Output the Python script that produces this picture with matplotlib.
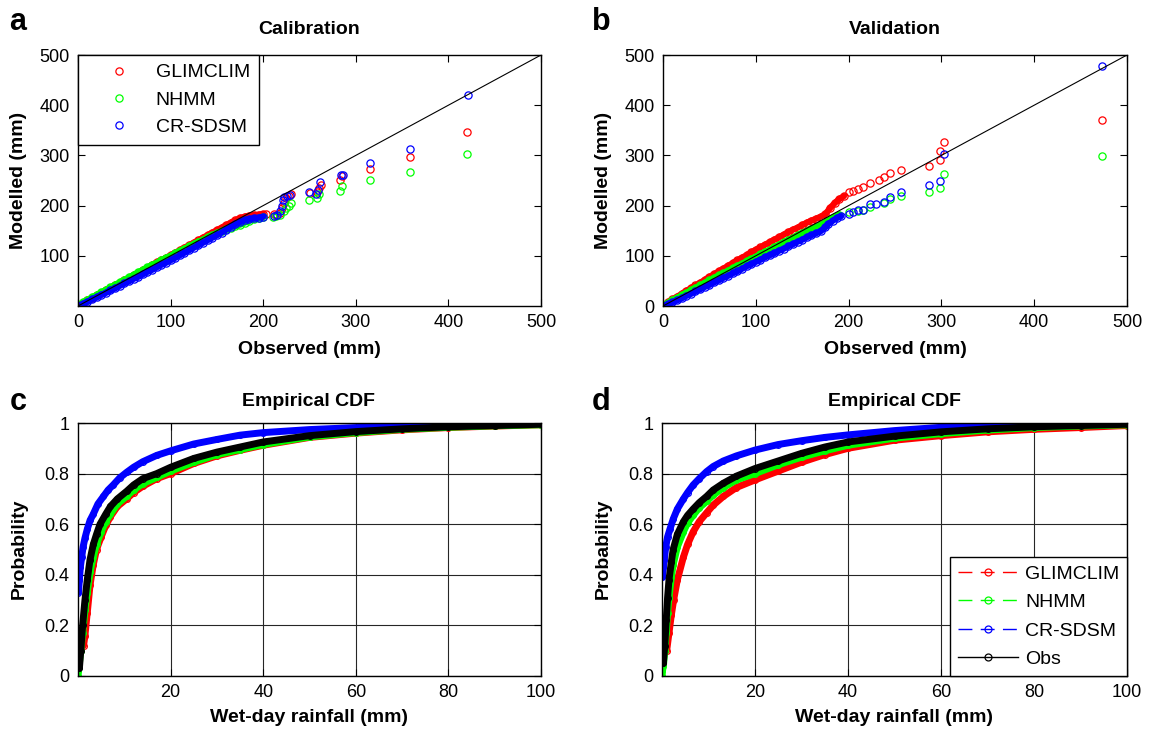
import matplotlib
matplotlib.use('Agg')
import matplotlib.pyplot as plt
from matplotlib.lines import Line2D

plt.rcParams['font.family'] = ['Liberation Sans', 'DejaVu Sans']

# ---------------- data: calibration (observed vs modelled, mm) ----------------
cal_glim_x = [0, 5, 10, 15, 20, 25, 30, 35, 40, 45, 50, 55, 60, 65, 70, 75, 80, 85, 90, 95, 100,
              105, 110, 115, 120, 125, 130, 135, 140, 145, 150, 155, 160, 165, 170, 175, 180, 185,
              190, 195, 200, 203, 212, 214, 218, 220, 222, 225, 228, 230, 250, 258, 260, 262, 283,
              285, 315, 358, 420]
cal_glim_y = [1, 6, 11, 16, 21, 26, 31, 36, 41, 46, 51, 56, 61, 66, 71, 76, 82, 87, 91, 96, 101,
              106, 111, 116, 121, 126, 131, 136, 141, 146, 151, 156, 161, 166, 171, 175, 178, 180,
              181, 182, 183, 184, 183, 181, 185, 195, 205, 215, 220, 224, 225, 228, 236, 242, 251,
              258, 272, 296, 347]
cal_nhmm_x = [0, 5, 10, 15, 20, 25, 30, 35, 40, 45, 50, 55, 60, 65, 70, 75, 80, 85, 90, 95, 100,
              105, 110, 115, 120, 125, 130, 135, 140, 145, 150, 155, 160, 165, 170, 175, 180, 185,
              190, 195, 200, 211, 214, 218, 222, 225, 228, 230, 249, 258, 260, 283, 285, 315, 358, 420]
cal_nhmm_y = [2, 7, 12, 17, 22, 27, 32, 37, 42, 47, 52, 57, 62, 67, 72, 77, 82, 86, 91, 96, 100,
              105, 110, 114, 119, 123, 128, 132, 137, 141, 145, 149, 153, 156, 159, 162, 166, 170,
              173, 175, 177, 178, 180, 182, 190, 196, 200, 205, 212, 216, 224, 230, 240, 251, 266, 302]
cal_crs_x = [0, 5, 10, 15, 20, 25, 30, 35, 40, 45, 50, 55, 60, 65, 70, 75, 80, 85, 90, 95, 100,
             105, 110, 115, 120, 125, 130, 135, 140, 145, 150, 155, 160, 165, 170, 175, 180, 185,
             190, 195, 200, 212, 215, 218, 220, 221, 223, 226, 229, 249, 257, 259, 261, 284, 286,
             315, 358, 421]
cal_crs_y = [0, 4, 8, 13, 17, 22, 26, 31, 35, 40, 45, 49, 54, 58, 63, 68, 72, 77, 82, 86, 91,
             96, 101, 106, 111, 116, 121, 126, 131, 136, 141, 146, 152, 157, 163, 167, 171, 173,
             175, 176, 178, 180, 182, 190, 200, 212, 218, 220, 222, 227, 224, 231, 247, 260, 261,
             284, 313, 421]

# ---------------- data: validation ----------------
val_glim_x = [0, 5, 10, 15, 20, 25, 30, 35, 40, 45, 50, 55, 60, 65, 70, 75, 80, 85, 90, 95, 100,
              105, 110, 115, 120, 125, 130, 135, 140, 145, 150, 155, 160, 165, 170, 175, 180, 185,
              190, 195, 200, 205, 210, 216, 223, 233, 238, 245, 256, 287, 298, 298, 303, 473]
val_glim_y = [1, 7, 13, 18, 24, 30, 35, 41, 46, 52, 58, 63, 69, 74, 80, 85, 91, 96, 101, 107, 112,
              117, 122, 127, 132, 137, 142, 147, 152, 156, 161, 166, 170, 174, 178, 183, 195, 205,
              213, 219, 227, 230, 233, 238, 245, 251, 257, 264, 270, 278, 291, 308, 327, 371]
val_nhmm_x = [0, 5, 10, 15, 20, 25, 30, 35, 40, 45, 50, 55, 60, 65, 70, 75, 80, 85, 90, 95, 100,
              105, 110, 115, 120, 125, 130, 135, 140, 145, 150, 155, 160, 165, 170, 175, 180, 185,
              190, 200, 210, 216, 223, 238, 245, 256, 287, 298, 303, 473]
val_nhmm_y = [1, 6, 11, 16, 21, 26, 31, 36, 41, 46, 51, 56, 61, 65, 70, 75, 80, 84, 89, 94, 98,
              103, 108, 112, 117, 122, 127, 131, 136, 141, 145, 150, 154, 158, 161, 166, 172, 178,
              182, 188, 190, 192, 198, 206, 214, 219, 228, 236, 263, 299]
val_crs_x = [0, 5, 10, 15, 20, 25, 30, 35, 40, 45, 50, 55, 60, 65, 70, 75, 80, 85, 90, 95, 100,
             105, 110, 115, 120, 125, 130, 135, 140, 145, 150, 155, 160, 165, 170, 175, 178, 183,
             188, 192, 200, 205, 210, 216, 223, 230, 238, 245, 256, 287, 298, 303, 473]
val_crs_y = [0, 3, 7, 11, 15, 20, 24, 29, 33, 38, 42, 47, 51, 56, 60, 65, 69, 74, 79, 83, 88,
             92, 97, 101, 105, 110, 114, 119, 123, 128, 132, 137, 141, 145, 149, 157, 163, 170,
             176, 179, 184, 187, 191, 191, 204, 203, 208, 218, 228, 242, 249, 302, 479]

# ---------------- data: empirical CDF, calibration ----------------
cdfc_glim_x = [1.2, 1.5, 2, 2.6, 3.3, 4, 5, 6, 7, 8.5, 10.5, 12, 14, 17, 20, 25, 30, 35, 40, 50, 60, 70, 80, 90, 100]
cdfc_glim_p = [0.12, 0.16, 0.25, 0.36, 0.44, 0.5, 0.55, 0.595, 0.63, 0.67, 0.70, 0.725, 0.75, 0.78, 0.80,
               0.84, 0.87, 0.892, 0.912, 0.943, 0.96, 0.973, 0.982, 0.988, 0.993]
cdfc_nhmm_x = [0, 0.1, 0.3, 0.6, 1.0, 1.5, 2, 2.6, 3.3, 4, 5, 6, 7, 8.5, 10.5, 12, 14, 17, 20, 25, 30, 35, 40, 50, 60, 70, 80, 90, 100]
cdfc_nhmm_p = [0, 0.02, 0.05, 0.1, 0.17, 0.26, 0.33, 0.41, 0.47, 0.52, 0.57, 0.61, 0.64, 0.68, 0.71, 0.735,
               0.76, 0.785, 0.81, 0.845, 0.875, 0.895, 0.915, 0.945, 0.962, 0.975, 0.983, 0.989, 0.993]
cdfc_crs_x = [0.1, 0.3, 0.5, 0.8, 1.1, 1.5, 2, 2.6, 3.3, 4.3, 5.5, 6.5, 7.6, 9, 10.5, 12, 14, 17, 20, 25, 30, 35, 40, 50, 60, 70, 80, 90, 100]
cdfc_crs_p = [0.33, 0.38, 0.43, 0.47, 0.51, 0.545, 0.58, 0.615, 0.64, 0.68, 0.71, 0.735, 0.755, 0.783, 0.805,
              0.825, 0.847, 0.872, 0.89, 0.917, 0.935, 0.952, 0.962, 0.974, 0.982, 0.988, 0.992, 0.996, 0.999]
cdfc_obs_x = [0.3, 0.6, 1.0, 1.5, 2.0, 2.6, 3.3, 4.0, 4.75, 6, 7, 8.5, 10.5, 12, 14, 17, 20, 25, 30, 35, 40, 50, 60, 70, 80, 90, 100]
cdfc_obs_p = [0.03, 0.1, 0.2, 0.3, 0.38, 0.46, 0.52, 0.56, 0.60, 0.64, 0.67, 0.70, 0.73, 0.755, 0.78, 0.80,
              0.825, 0.86, 0.885, 0.905, 0.925, 0.95, 0.966, 0.977, 0.985, 0.99, 0.995]

# ---------------- data: empirical CDF, validation ----------------
cdfd_glim_x = [1.0, 1.5, 2, 2.5, 3.3, 4.6, 5.5, 6.7, 8, 9.6, 11, 13.2, 16, 20, 25, 30, 35, 40, 50, 60, 70, 80, 90, 100]
cdfd_glim_p = [0.1, 0.17, 0.24, 0.3, 0.38, 0.47, 0.52, 0.57, 0.61, 0.645, 0.675, 0.71, 0.745, 0.775, 0.81,
               0.845, 0.875, 0.9, 0.932, 0.95, 0.965, 0.975, 0.982, 0.99]
cdfd_nhmm_x = [0, 0.1, 0.3, 0.6, 0.9, 1.2, 1.5, 2, 2.4, 3.3, 4.6, 5.5, 6.7, 8, 9.6, 11, 13.2, 16, 20, 25, 30, 35, 40, 50, 60, 70, 80, 90, 100]
cdfd_nhmm_p = [0, 0.02, 0.04, 0.1, 0.17, 0.25, 0.31, 0.39, 0.44, 0.51, 0.57, 0.605, 0.635, 0.665, 0.69, 0.715,
               0.745, 0.775, 0.80, 0.835, 0.865, 0.89, 0.912, 0.94, 0.958, 0.972, 0.982, 0.988, 0.993]
cdfd_crs_x = [0.1, 0.3, 0.5, 0.8, 1.2, 1.7, 2.4, 3.3, 4.6, 5.5, 6.7, 8, 9.6, 11, 13.2, 16, 20, 25, 30, 35, 40, 50, 60, 70, 80, 90, 100]
cdfd_crs_p = [0.39, 0.43, 0.46, 0.51, 0.55, 0.58, 0.62, 0.66, 0.70, 0.725, 0.755, 0.78, 0.808, 0.828, 0.85,
              0.87, 0.893, 0.915, 0.93, 0.943, 0.953, 0.97, 0.983, 0.989, 0.993, 0.997, 1.0]
cdfd_obs_x = [0.3, 0.6, 0.9, 1.2, 1.5, 2, 2.4, 3.3, 4.6, 5.5, 6.7, 8, 9.6, 11, 13.2, 16, 20, 25, 30, 35, 40, 50, 60, 70, 80, 90, 100]
cdfd_obs_p = [0.05, 0.12, 0.22, 0.31, 0.38, 0.45, 0.5, 0.56, 0.61, 0.635, 0.66, 0.685, 0.71, 0.735, 0.762,
              0.79, 0.82, 0.85, 0.88, 0.905, 0.925, 0.948, 0.965, 0.977, 0.985, 0.99, 0.995]

series_names = ['GLIMCLIM', 'NHMM', 'CR-SDSM', 'Obs']
RED, GREEN, BLUE, BLACK = '#ff0000', '#00ff00', '#0000ff', '#000000'

# observed value up to which the modelled points form a continuous dense band
cal_dense_limit = 200
val_dense_limit = 195

W, H = 1150, 731
fig = plt.figure(figsize=(W / 100, H / 100), dpi=100)


def ax_px(l, t, r, b):
    return fig.add_axes([l / W, 1 - b / H, (r - l) / W, (b - t) / H])


axa = ax_px(78, 55, 541, 306)
axb = ax_px(663, 55, 1127, 306)
axc = ax_px(78, 423, 541, 676)
axd = ax_px(662, 423, 1127, 676)

for ax in (axa, axb, axc, axd):
    ax.tick_params(direction='in', top=True, right=True, length=5, width=0.8,
                   labelsize=13, pad=6)
    for s in ax.spines.values():
        s.set_linewidth(1.0)


# ---- scatter panels ----
def qq(ax, data, limit):
    handles = []
    for (x, y, c, name) in data:
        dx = [a for a in x if a <= limit]
        dy = [b for a, b in zip(x, y) if a <= limit]
        ax.plot(dx, dy, '-', color=c, lw=4.5, solid_capstyle='round', solid_joinstyle='round')
        h, = ax.plot(x, y, 'o', ls='none', ms=5.2, mfc='none', mec=c, mew=0.9, label=name)
        handles.append(h)
    ax.plot([0, 500], [0, 500], color='k', lw=0.8, zorder=5)
    ax.set_xlim(0, 500)
    ax.set_ylim(0, 500)
    ax.set_xticks([0, 100, 200, 300, 400, 500])
    return handles


ha = qq(axa, [(cal_glim_x, cal_glim_y, RED, series_names[0]),
              (cal_nhmm_x, cal_nhmm_y, GREEN, series_names[1]),
              (cal_crs_x, cal_crs_y, BLUE, series_names[2])], cal_dense_limit)
axa.set_yticks([100, 200, 300, 400, 500])
qq(axb, [(val_glim_x, val_glim_y, RED, series_names[0]),
         (val_nhmm_x, val_nhmm_y, GREEN, series_names[1]),
         (val_crs_x, val_crs_y, BLUE, series_names[2])], val_dense_limit)
axb.set_yticks([0, 100, 200, 300, 400, 500])

leg = axa.legend(handles=ha, loc='upper left', bbox_to_anchor=(0, 1), borderaxespad=0,
                 fontsize=14, fancybox=False, edgecolor='k', framealpha=1,
                 borderpad=0.45, handlelength=3.3, handletextpad=0.25, labelspacing=0.5,
                 numpoints=1)
leg.get_frame().set_linewidth(1.0)


# ---- CDF panels ----
def cdf(ax, data):
    for (x, p, c) in data:
        ax.plot(x, p, '-', color=c, lw=5, solid_capstyle='round', solid_joinstyle='round')
        ax.plot(x, p, 'o', ls='none', ms=4.2, mfc='none', mec=c, mew=0.8)
    ax.set_xlim(0, 100)
    ax.set_ylim(0, 1)
    ax.set_xticks([20, 40, 60, 80, 100])
    ax.set_yticks([0, 0.2, 0.4, 0.6, 0.8, 1.0])
    ax.set_yticklabels(['0', '0.2', '0.4', '0.6', '0.8', '1'])
    ax.grid(True, color='0.15', lw=0.8)
    ax.set_axisbelow(True)


cdf(axc, [(cdfc_glim_x, cdfc_glim_p, RED), (cdfc_nhmm_x, cdfc_nhmm_p, GREEN),
          (cdfc_crs_x, cdfc_crs_p, BLUE), (cdfc_obs_x, cdfc_obs_p, BLACK)])
cdf(axd, [(cdfd_glim_x, cdfd_glim_p, RED), (cdfd_nhmm_x, cdfd_nhmm_p, GREEN),
          (cdfd_crs_x, cdfd_crs_p, BLUE), (cdfd_obs_x, cdfd_obs_p, BLACK)])

lh = []
for c, name in zip([RED, GREEN, BLUE], series_names[:3]):
    lh.append(Line2D([0], [0], color=c, lw=1.0, ls=(0, (10, 6)), marker='o', ms=5,
                     mfc='none', mec=c, mew=0.9, label=name))
lh.append(Line2D([0], [0], color='k', lw=1.0, ls='-', marker='o', ms=5,
                 mfc='none', mec='k', mew=0.9, label=series_names[3]))
legd = axd.legend(handles=lh, loc='lower right', bbox_to_anchor=(1, 0), borderaxespad=0,
                  fontsize=14, fancybox=False, edgecolor='k', framealpha=1,
                  borderpad=0.4, handlelength=3.1, handletextpad=0.36, labelspacing=0.56)
legd.get_frame().set_linewidth(1.0)


# ---- texts ----
def ftext(x, y, s, **kw):
    fig.text(x / W, 1 - y / H, s, ha='center', va='center', **kw)


ftext(309, 30, 'Calibration', fontsize=14, fontweight='bold')
ftext(895, 30, 'Validation', fontsize=14, fontweight='bold')
ftext(309, 401, 'Empirical CDF', fontsize=14, fontweight='bold')
ftext(894, 401, 'Empirical CDF', fontsize=14, fontweight='bold')

ftext(309, 349, 'Observed (mm)', fontsize=14, fontweight='bold')
ftext(895, 349, 'Observed (mm)', fontsize=14, fontweight='bold')
ftext(309, 718, 'Wet-day rainfall (mm)', fontsize=14, fontweight='bold')
ftext(894, 718, 'Wet-day rainfall (mm)', fontsize=14, fontweight='bold')

ftext(19, 180, 'Modelled (mm)', fontsize=14, fontweight='bold', rotation=90)
ftext(603, 180, 'Modelled (mm)', fontsize=14, fontweight='bold', rotation=90)
ftext(19, 549, 'Probability', fontsize=14, fontweight='bold', rotation=90)
ftext(603, 549, 'Probability', fontsize=14, fontweight='bold', rotation=90)

ftext(18, 22, 'a', fontsize=22, fontweight='bold')
ftext(601, 22, 'b', fontsize=22, fontweight='bold')
ftext(18, 402, 'c', fontsize=22, fontweight='bold')
ftext(601, 402, 'd', fontsize=22, fontweight='bold')

fig.savefig('out.png', dpi=100)
